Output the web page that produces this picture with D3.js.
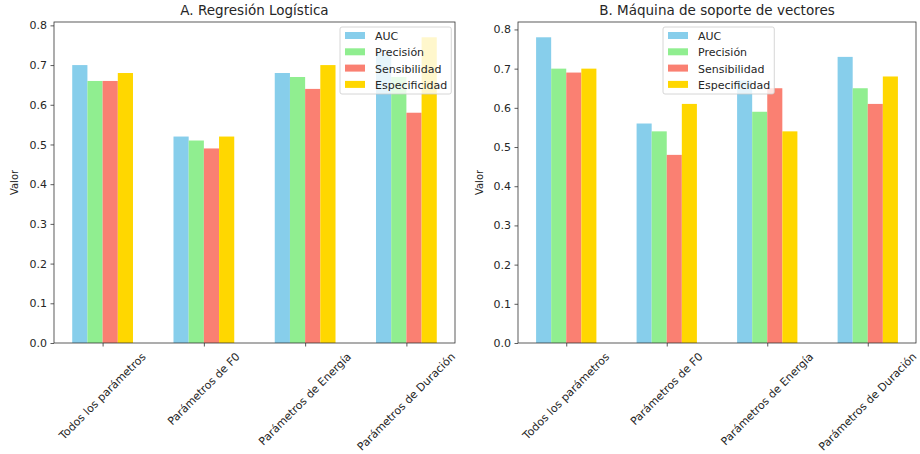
<!DOCTYPE html>
<html>
<head>
<meta charset="utf-8">
<script src="https://cdn.jsdelivr.net/npm/d3@7"></script>
<style>
  body { margin: 0; background: #fff; }
  svg text { font-family: "DejaVu Sans", sans-serif; fill: #262626; }
</style>
</head>
<body>
<div id="container"></div>
<script>
// categories and metrics
const categories = ["Todos los parámetros", "Parámetros de F0", "Parámetros de Energía", "Parámetros de Duración"];
const metrics = ["AUC", "Precisión", "Sensibilidad", "Especificidad"];
const colors = ["#87CEEB", "#90EE90", "#FA8072", "#FFD700"];
const yTicks = [0, 0.1, 0.2, 0.3, 0.4, 0.5, 0.6, 0.7, 0.8];

// A. Regresión Logística
const lrAUC  = [0.70, 0.52, 0.68, 0.73];
const lrPrec = [0.66, 0.51, 0.67, 0.67];
const lrSens = [0.66, 0.49, 0.64, 0.58];
const lrEsp  = [0.68, 0.52, 0.70, 0.77];

// B. Máquina de soporte de vectores
const svmAUC  = [0.78, 0.56, 0.67, 0.73];
const svmPrec = [0.70, 0.54, 0.59, 0.65];
const svmSens = [0.69, 0.48, 0.65, 0.61];
const svmEsp  = [0.70, 0.61, 0.54, 0.68];

let w = 920, h = 454;
let svg = d3.select("div#container").append("svg")
    .attr("width", w).attr("height", h);

let barW = 0.15;
let fs = 11;       // tick / legend font size
let titleFs = 13.5;

/*
  one panel = one matplotlib-like axes
*/
function drawPanel(p) {
    let series = p.series;
    let yMax = d3.max(series.flat()) * 1.05;
    let x = d3.scaleLinear().domain([-0.48, 3.48]).range([p.x0, p.x1]);
    let y = d3.scaleLinear().domain([0, yMax]).range([p.y1, p.y0]);
    let g = svg.append("g");

    // bars
    series.forEach((vals, j) => {
        g.selectAll(null)
            .data(vals)
            .enter()
            .append("rect")
            .attr("x", (d, i) => x(i + (j - 2) * barW))
            .attr("width", x(barW) - x(0))
            .attr("y", d => y(d))
            .attr("height", d => y(0) - y(d))
            .attr("fill", colors[j]);
    });

    // y axis
    let ya = g.append("g")
        .attr("transform", "translate(" + p.x0 + ",0)")
        .call(d3.axisLeft(y).tickValues(yTicks).tickFormat(d3.format(".1f")).tickSize(3.5).tickPadding(3.5));
    ya.select(".domain").remove();
    ya.selectAll("line").attr("stroke", "#333").attr("stroke-width", 0.8);
    ya.selectAll("text").style("font-size", fs + "px").attr("fill", "#262626");

    // x axis ticks
    let xa = g.append("g")
        .attr("transform", "translate(0," + p.y1 + ")")
        .call(d3.axisBottom(x).tickValues([0, 1, 2, 3]).tickSize(3.5).tickFormat(""));
    xa.select(".domain").remove();
    xa.selectAll("line").attr("stroke", "#333").attr("stroke-width", 0.8);

    // rotated category labels, bbox centered on tick
    categories.forEach((c, i) => {
        let t = g.append("text")
            .style("font-size", fs + "px")
            .attr("text-anchor", "middle")
            .attr("dominant-baseline", "central")
            .text(c);
        let L = t.node().getComputedTextLength();
        let bh = (L + fs) * Math.SQRT1_2;
        t.attr("transform", "translate(" + x(i) + "," + (p.y1 + 8 + bh / 2) + ") rotate(-45)");
    });

    // frame
    g.append("rect")
        .attr("x", p.x0).attr("y", p.y0)
        .attr("width", p.x1 - p.x0).attr("height", p.y1 - p.y0)
        .attr("fill", "none").attr("stroke", "#333").attr("stroke-width", 0.8);

    // title and y label
    g.append("text")
        .attr("x", (p.x0 + p.x1) / 2).attr("y", p.y0 - 7)
        .attr("text-anchor", "middle")
        .style("font-size", titleFs + "px")
        .text(p.title);
    g.append("text")
        .attr("transform", "translate(" + p.labelX + "," + (p.y0 + p.y1) / 2 + ") rotate(-90)")
        .attr("text-anchor", "middle")
        .style("font-size", "10px")
        .text("Valor");

    // legend
    let lg = g.append("g").attr("transform", "translate(" + p.legX + "," + p.legY + ")");
    let box = lg.append("rect")
        .attr("rx", 2).attr("ry", 2)
        .attr("fill", "white").attr("fill-opacity", 0.8)
        .attr("stroke", "#cccccc").attr("stroke-width", 0.8);
    let maxW = 0;
    metrics.forEach((m, j) => {
        lg.append("rect")
            .attr("x", 5).attr("y", 5 + j * 16.3)
            .attr("width", 20).attr("height", 7)
            .attr("fill", colors[j]);
        let t = lg.append("text")
            .attr("x", 35).attr("y", 13 + j * 16.3)
            .style("font-size", fs + "px")
            .text(m);
        maxW = Math.max(maxW, t.node().getComputedTextLength());
    });
    box.attr("width", 35 + maxW + 4).attr("height", 67);
}

drawPanel({
    title: "A. Regresión Logística",
    series: [lrAUC, lrPrec, lrSens, lrEsp],
    x0: 54, x1: 455, y0: 22, y1: 343,
    labelX: 18, legX: 340, legY: 27
});

drawPanel({
    title: "B. Máquina de soporte de vectores",
    series: [svmAUC, svmPrec, svmSens, svmEsp],
    x0: 518, x1: 916, y0: 22, y1: 343,
    labelX: 483, legX: 663, legY: 27
});
</script>
</body>
</html>
